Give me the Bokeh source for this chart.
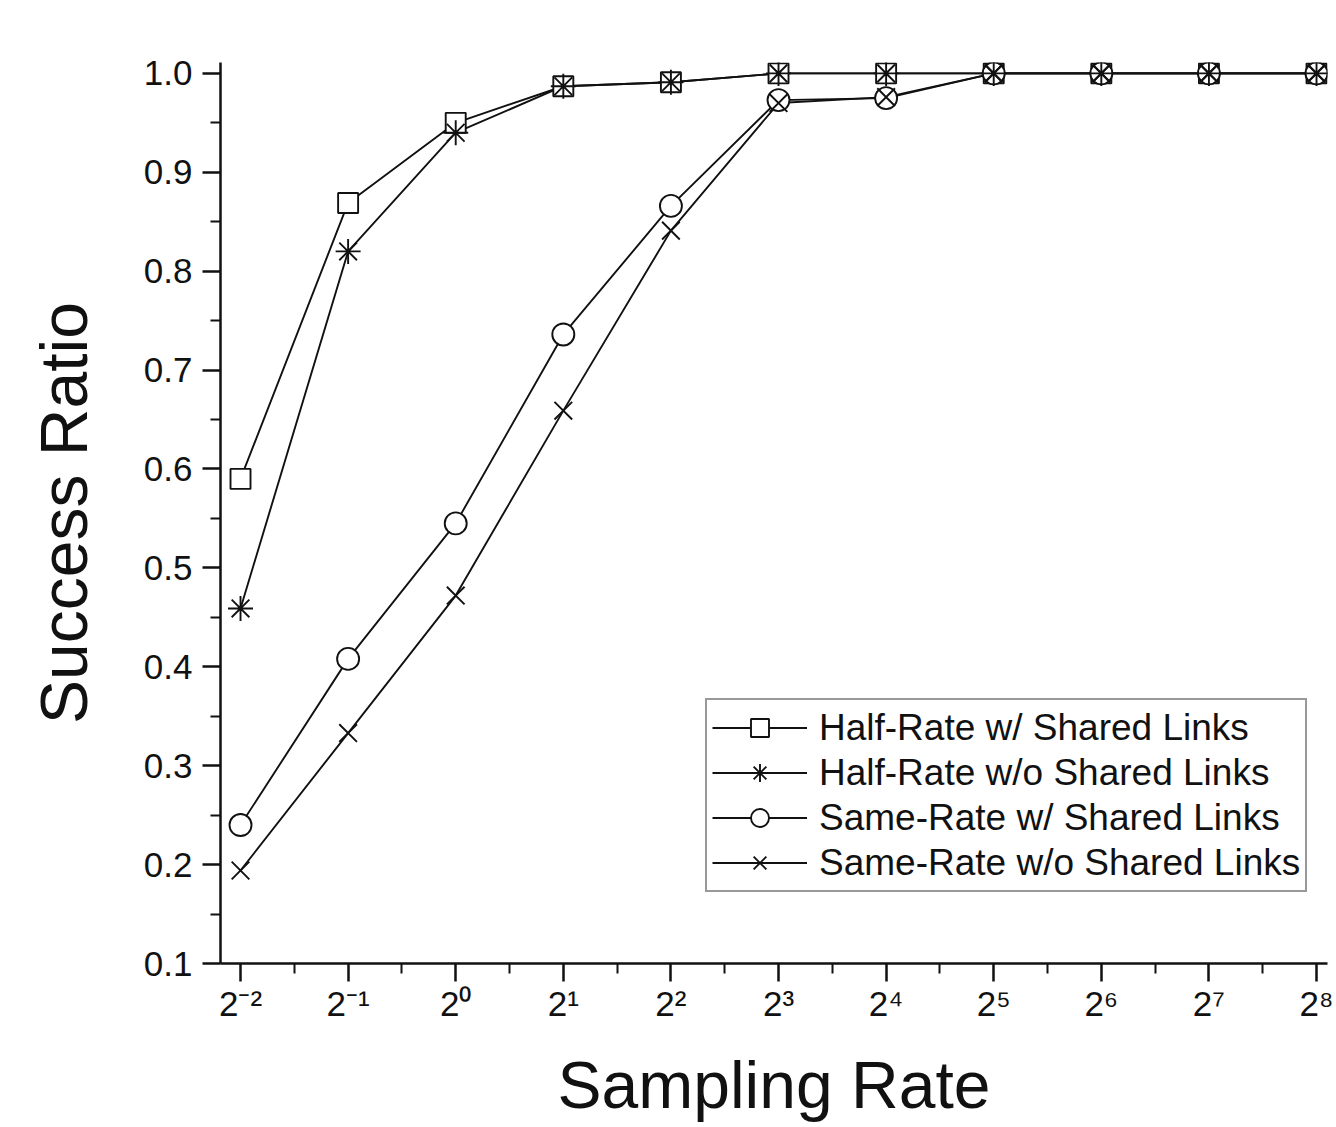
from bokeh.plotting import figure
from bokeh.models import Range1d, FixedTicker, Legend, LegendItem, NumeralTickFormatter
from bokeh.embed import file_html
from bokeh.resources import INLINE

# ---- data ----
rate_exponents = [-2, -1, 0, 1, 2, 3, 4, 5, 6, 7, 8]          # sampling rate = 2**exponent
tick_labels = ["2⁻²", "2⁻¹", "2⁰", "2¹", "2²", "2³", "2⁴", "2⁵", "2⁶", "2⁷", "2⁸"]
minor_positions = [-2.5, -1.5, -0.5, 0.5, 1.5, 2.5, 3.5, 4.5, 5.5, 6.5, 7.5]
y_major_ticks = [0.1, 0.2, 0.3, 0.4, 0.5, 0.6, 0.7, 0.8, 0.9, 1.0]
y_minor_ticks = [0.15, 0.25, 0.35, 0.45, 0.55, 0.65, 0.75, 0.85, 0.95]

half_rate_shared = [0.590, 0.869, 0.950, 0.987, 0.991, 1.0, 1.0, 1.0, 1.0, 1.0, 1.0]
half_rate_no_shared = [0.459, 0.820, 0.940, 0.987, 0.991, 1.0, 1.0, 1.0, 1.0, 1.0, 1.0]
same_rate_shared = [0.240, 0.408, 0.545, 0.736, 0.866, 0.973, 0.975, 1.0, 1.0, 1.0, 1.0]
same_rate_no_shared = [0.194, 0.333, 0.472, 0.659, 0.841, 0.970, 0.976, 1.0, 1.0, 1.0, 1.0]

series_names = ["Half-Rate w/ Shared Links", "Half-Rate w/o Shared Links",
                "Same-Rate w/ Shared Links", "Same-Rate w/o Shared Links"]

FONT = "Liberation Sans"
INK = "#111111"

p = figure(width=1336, height=1127, output_backend="svg", toolbar_location=None,
           x_range=Range1d(-2.186, 8.102), y_range=Range1d(0.1, 1.011),
           min_border_left=220, min_border_top=62, min_border_right=9, min_border_bottom=164)
p.outline_line_color = None
p.xgrid.visible = False
p.ygrid.visible = False
p.background_fill_color = "white"
p.border_fill_color = "white"

# axes
p.xaxis.ticker = FixedTicker(ticks=rate_exponents, minor_ticks=minor_positions)
p.xaxis.major_label_overrides = {e: lab for e, lab in zip(rate_exponents, tick_labels)}
p.yaxis.ticker = FixedTicker(ticks=y_major_ticks, minor_ticks=y_minor_ticks)
p.yaxis.formatter = NumeralTickFormatter(format="0.0")
for ax in (p.xaxis, p.yaxis):
    ax.axis_line_width = 2.5
    ax.axis_line_color = INK
    ax.major_tick_line_width = 2.5
    ax.major_tick_line_color = INK
    ax.minor_tick_line_width = 2
    ax.minor_tick_line_color = INK
    ax.major_tick_in = 0
    ax.major_tick_out = 18
    ax.minor_tick_in = 0
    ax.minor_tick_out = 10
    ax.major_label_text_font = FONT
    ax.major_label_text_font_size = "35px"
    ax.major_label_text_color = INK
    ax.axis_label_text_font = FONT
    ax.axis_label_text_font_size = "66px"
    ax.axis_label_text_font_style = "normal"
    ax.axis_label_text_color = INK
p.xaxis.axis_label = "Sampling Rate"
p.yaxis.axis_label = "Success Ratio"
p.xaxis.major_label_standoff = 2
p.yaxis.major_label_standoff = 10
p.xaxis.axis_label_standoff = 22
p.yaxis.axis_label_standoff = 40

LW = 1.9
series = [
    (half_rate_shared, "square", 20, "white"),
    (half_rate_no_shared, "asterisk", 25, None),
    (same_rate_shared, "circle", 22, "white"),
    (same_rate_no_shared, "x", 25, None),
]
lines = []
for vals, *_ in series:
    lines.append(p.line(rate_exponents, vals, line_color=INK, line_width=LW))
marks = [None] * 4
for idx in (0, 2, 1, 3):
    vals, marker, size, fill = series[idx]
    marks[idx] = p.scatter(rate_exponents, vals, marker=marker, size=size,
                           line_color=INK, line_width=LW,
                           fill_color=fill if fill else None)

items = [LegendItem(label=name, renderers=[lines[i], marks[i]]) for i, name in enumerate(series_names)]
legend = Legend(items=items, location=(485, 71))
legend.label_text_font = FONT
legend.label_text_font_size = "37px"
legend.label_text_color = INK
legend.glyph_width = 95
legend.glyph_height = 45
legend.label_height = 45
legend.label_standoff = 12
legend.spacing = 0
legend.padding = 5
legend.margin = 0
legend.border_line_color = "#333333"
legend.border_line_width = 2
legend.background_fill_color = "white"
legend.background_fill_alpha = 1
p.add_layout(legend)

open("out.html", "w").write(file_html(p, INLINE))
